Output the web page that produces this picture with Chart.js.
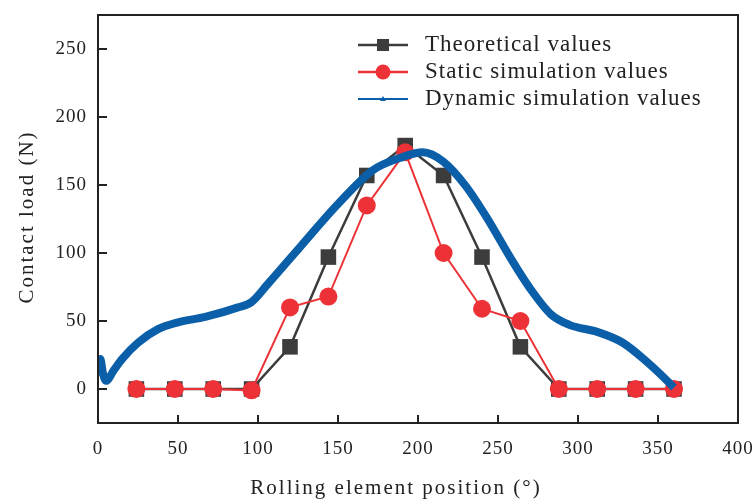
<!DOCTYPE html>
<html>
<head>
<meta charset="utf-8">
<script src="https://cdn.jsdelivr.net/npm/chart.js@4/dist/chart.umd.min.js"></script>
<style>
  html, body { margin: 0; padding: 0; background: #fff; }
  #wrap { width: 754px; height: 502px; }
</style>
</head>
<body>
<div id="wrap"><canvas id="myChart" width="754" height="502"></canvas></div>
<script>
// rolling element positions (deg) for the discrete series
var positions = [24, 48, 72, 96, 120, 144, 168, 192, 216, 240, 264, 288, 312, 336, 360];
var theoretical = [0, 0, 0, 0, 31, 97, 157, 179, 157, 97, 31, 0, 0, 0, 0];
var staticSim = [0, 0, 0, -1, 60, 68, 135, 174, 100, 59, 50, 0, 0, 0, 0];

// dynamic simulation curve
var dynX = [0, 1.5, 3, 5, 10, 15, 25, 37.5, 50, 67, 87.5, 96, 106, 126, 150, 172, 189, 203, 216, 230, 243, 258, 270, 283, 295, 312, 328, 343, 357.5, 360];
var dynY = [10, 22, 12, 6, 14, 22, 34, 44, 49, 53, 60, 64, 77, 104, 136, 161, 170, 174, 167, 149, 126, 96, 74, 55, 47, 42, 34, 20, 4, 1];

var xTicks = [0, 50, 100, 150, 200, 250, 300, 350, 400];
var yTicks = [0, 50, 100, 150, 200, 250];

var seriesNames = ['Theoretical values', 'Static simulation values', 'Dynamic simulation values'];
var xTitle = 'Rolling element position (°)';
var yTitle = 'Contact load (N)';

var serif = "'Liberation Serif', 'Times New Roman', serif";

function pts(xs, ys) {
    var out = [];
    for (var i = 0; i < xs.length; i++) out.push({x: xs[i], y: ys[i]});
    return out;
}

// frame, inward ticks, axis titles and the legend
var decor = {
    id: 'decor',
    beforeDraw: function (chart) {
        chart.ctx.letterSpacing = '1px';
    },
    afterDraw: function (chart) {
        var c = chart.ctx, a = chart.chartArea;
        var xs = chart.scales.x, ys = chart.scales.y;
        c.save();
        c.strokeStyle = '#222';
        c.lineWidth = 2;
        c.strokeRect(a.left, a.top, a.right - a.left, a.bottom - a.top);
        c.beginPath();
        xTicks.forEach(function (v) {
            if (v == 0 || v == 400) return;
            var px = xs.getPixelForValue(v);
            c.moveTo(px, a.bottom);
            c.lineTo(px, a.bottom - 8);
        });
        yTicks.forEach(function (v) {
            var py = ys.getPixelForValue(v);
            c.moveTo(a.left, py);
            c.lineTo(a.left + 9, py);
        });
        c.stroke();

        // axis titles
        c.fillStyle = '#222';
        c.textAlign = 'center';
        c.textBaseline = 'middle';
        c.font = '21px ' + serif;
        c.letterSpacing = '2px';
        c.fillText(xTitle, 396, 488);
        c.save();
        c.translate(27, 217);
        c.rotate(-Math.PI / 2);
        c.font = '21px ' + serif;
        c.letterSpacing = '2px';
        c.fillText(yTitle, 0, 0);
        c.restore();

        // legend
        var lx = a.left + 260, ly = a.top + 30, gap = 27;
        c.textAlign = 'left';
        c.letterSpacing = '1px';
        chart.data.datasets.forEach(function (ds, i) {
            var y = ly + i * gap;
            c.strokeStyle = ds.borderColor;
            c.lineWidth = i == 2 ? 2 : 2.5;
            c.beginPath();
            c.moveTo(lx, y);
            c.lineTo(lx + 50, y);
            c.stroke();
            c.fillStyle = ds.borderColor;
            if (i == 0) {
                c.fillRect(lx + 25 - 6, y - 6, 12, 12);
            } else if (i == 1) {
                c.beginPath();
                c.arc(lx + 25, y, 7.5, 0, Math.PI * 2);
                c.fill();
            } else {
                c.beginPath();
                c.moveTo(lx + 25, y - 3);
                c.lineTo(lx + 28, y + 2);
                c.lineTo(lx + 22, y + 2);
                c.closePath();
                c.fill();
            }
            c.fillStyle = '#222';
            c.font = '23px ' + serif;
            c.fillText(ds.label, lx + 67, y);
        });
        c.restore();
    }
};

var ctx = document.getElementById('myChart').getContext('2d');
var myChart = new Chart(ctx, {
    type: 'line',
    data: {
        datasets: [{
            label: seriesNames[0],
            data: pts(positions, theoretical),
            borderColor: '#3c3c3c',
            backgroundColor: '#3c3c3c',
            borderWidth: 2.5,
            pointStyle: 'rect',
            pointRadius: 11,
            pointBorderWidth: 0,
            tension: 0,
            order: 2
        }, {
            label: seriesNames[1],
            data: pts(positions, staticSim),
            borderColor: '#ec3237',
            backgroundColor: '#ec3237',
            borderWidth: 2,
            pointStyle: 'circle',
            pointRadius: 9,
            pointBorderWidth: 0,
            tension: 0,
            order: 1
        }, {
            label: seriesNames[2],
            data: pts(dynX, dynY),
            borderColor: '#0b5fa9',
            backgroundColor: '#0b5fa9',
            borderWidth: 8,
            pointRadius: 0,
            cubicInterpolationMode: 'monotone',
            order: 0
        }]
    },
    options: {
        responsive: false,
        animation: false,
        layout: { padding: { left: 0, top: 15, right: 16, bottom: 0 } },
        plugins: { legend: { display: false }, tooltip: { enabled: false } },
        scales: {
            x: {
                type: 'linear',
                min: 0, max: 400,
                afterBuildTicks: function (s) { s.ticks = xTicks.map(function (v) { return {value: v}; }); },
                afterFit: function (s) { s.height = 79; s.paddingLeft = 0; s.paddingRight = 0; },
                grid: { display: false, drawTicks: false },
                border: { display: false },
                ticks: { color: '#222', font: { family: serif, size: 19 }, padding: 15, maxRotation: 0 }
            },
            y: {
                type: 'linear',
                min: -25, max: 275,
                afterBuildTicks: function (s) { s.ticks = yTicks.map(function (v) { return {value: v}; }); },
                afterFit: function (s) { s.width = 98; s.paddingTop = 0; s.paddingBottom = 0; },
                grid: { display: false, drawTicks: false },
                border: { display: false },
                ticks: { color: '#222', font: { family: serif, size: 19 }, padding: 11 }
            }
        }
    },
    plugins: [decor]
});
</script>
</body>
</html>
